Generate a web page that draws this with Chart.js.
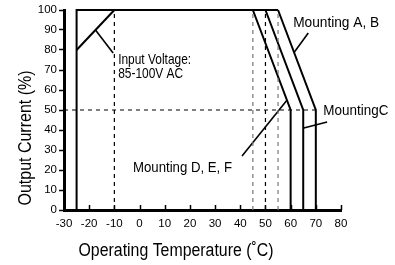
<!DOCTYPE html>
<html>
<head>
<meta charset="utf-8">
<script src="https://cdn.jsdelivr.net/npm/chart.js@4.4.1/dist/chart.umd.min.js"></script>
<style>
  body { margin: 0; background: #fff; }
  #wrap { width: 395px; height: 265px; }
</style>
</head>
<body>
<div id="wrap"><canvas id="derating" width="395" height="265"></canvas></div>
<script>
// axis ticks
const xTicks = [-30, -20, -10, 0, 10, 20, 30, 40, 50, 60, 70, 80];
const yTicks = [0, 10, 20, 30, 40, 50, 60, 70, 80, 90, 100];

// derating curves (temperature °C, output current %)
const outlineX = [-25, -25, 55];
const outlineY = [0, 100, 100];
const lowVoltX = [-25, -10];
const lowVoltY = [80, 100];
const mountDEFX = [45, 60, 60];
const mountDEFY = [100, 50, 0];
const mountCX = [50, 65, 65];
const mountCY = [100, 50, 0];
const mountABX = [55, 70, 70];
const mountABY = [100, 50, 0];

// dashed guide lines
const guide50X = [-30, 70];
const guide50Y = [50, 50];
const guideTemps = [-10, 45, 50, 55];
const guideColors = ['#000', '#777', '#000', '#777'];

// leader lines for the callouts
const leaderVoltX = [-17.5, -10.5];
const leaderVoltY = [90, 78.5];
const leaderABX = [67, 61.5];
const leaderABY = [88.5, 79];
const leaderCX = [74.5, 65.2];
const leaderCY = [44, 41];
const leaderDEFX = [40.7, 58.6];
const leaderDEFY = [27, 55];

// callout text, anchored at data coordinates (w = condensed width in px)
const callouts = [
    { text: 'Input Voltage:', x: -8.5, y: 73, w: 73 },
    { text: '85-100V AC', x: -8.5, y: 66.2, w: 65 },
    { text: 'Mounting A, B', x: 61, y: 91.7, w: 86 },
    { text: 'MountingC', x: 73, y: 47.5, w: 65 },
    { text: 'Mounting D, E, F', x: -2.6, y: 19.2, w: 99 }
];

const FONT = '"Liberation Sans", Arial, sans-serif';

function pts(xs, ys) {
    return xs.map((x, i) => ({ x: x, y: ys[i] }));
}

function solid(xs, ys, width) {
    return {
        data: pts(xs, ys),
        showLine: true,
        borderColor: '#000',
        borderWidth: width,
        pointRadius: 0,
        clip: false,
        borderJoinStyle: 'miter'
    };
}

// draw text squeezed horizontally to look like a condensed face
function squeezed(ctx, text, x, y, width, align) {
    const natural = ctx.measureText(text).width;
    const k = width / natural;
    ctx.save();
    ctx.translate(x, y);
    ctx.scale(k, 1);
    ctx.textAlign = align;
    ctx.fillText(text, 0, 0);
    ctx.restore();
}

const datasets = [];
guideTemps.forEach((t, i) => {
    datasets.push({
        data: pts([t, t], [0, 100]),
        showLine: true,
        borderColor: guideColors[i],
        borderWidth: 1.2,
        borderDash: [4, 4],
        pointRadius: 0,
        clip: false
    });
});
datasets.push({
    data: pts(guide50X, guide50Y),
    showLine: true,
    borderColor: '#000',
    borderWidth: 1.2,
    borderDash: [4, 4],
    pointRadius: 0,
    clip: false
});
datasets.push(solid(outlineX, outlineY, 2));
datasets.push(solid(lowVoltX, lowVoltY, 2));
datasets.push(solid(mountDEFX, mountDEFY, 2));
datasets.push(solid(mountCX, mountCY, 2));
datasets.push(solid(mountABX, mountABY, 2));
datasets.push(solid(leaderVoltX, leaderVoltY, 1.6));
datasets.push(solid(leaderABX, leaderABY, 1.6));
datasets.push(solid(leaderCX, leaderCY, 1.6));
datasets.push(solid(leaderDEFX, leaderDEFY, 1.6));

// inward tick marks on x, callout text and axis titles
const decorations = {
    id: 'decorations',
    afterDatasetsDraw(chart) {
        const ctx = chart.ctx;
        const xs = chart.scales.x;
        const ys = chart.scales.y;
        const area = chart.chartArea;
        ctx.save();
        ctx.strokeStyle = '#000';
        ctx.lineWidth = 1.5;
        xTicks.slice(1).forEach(t => {
            const px = Math.round(xs.getPixelForValue(t)) + 0.5;
            ctx.beginPath();
            ctx.moveTo(px, area.bottom);
            ctx.lineTo(px, area.bottom - 5);
            ctx.stroke();
        });

        ctx.fillStyle = '#000';
        ctx.font = '15px ' + FONT;
        ctx.textBaseline = 'alphabetic';
        callouts.forEach(c => {
            squeezed(ctx, c.text, xs.getPixelForValue(c.x), ys.getPixelForValue(c.y), c.w, 'left');
        });

        ctx.font = '18px ' + FONT;
        squeezed(ctx, 'Operating Temperature (˚C)', 176, 256, 195, 'center');
        ctx.translate(31, 138);
        ctx.rotate(-Math.PI / 2);
        squeezed(ctx, 'Output Current (%)', 0, 0, 135, 'center');
        ctx.restore();
    }
};

new Chart(document.getElementById('derating').getContext('2d'), {
    type: 'scatter',
    data: { datasets: datasets },
    options: {
        responsive: false,
        animation: false,
        layout: { padding: { top: 10, right: 54, left: 0, bottom: 0 } },
        plugins: {
            legend: { display: false },
            tooltip: { enabled: false }
        },
        scales: {
            x: {
                type: 'linear',
                min: -30,
                max: 80,
                afterFit(scale) { scale.height = 55; },
                afterBuildTicks(scale) { scale.ticks = xTicks.map(v => ({ value: v })); },
                grid: { display: false, drawTicks: false },
                border: { display: true, color: '#000', width: 3 },
                ticks: {
                    color: '#000',
                    padding: 7,
                    font: { family: FONT, size: 11.5 }
                }
            },
            y: {
                type: 'linear',
                min: 0,
                max: 100,
                afterFit(scale) { scale.width = 64; },
                afterBuildTicks(scale) { scale.ticks = yTicks.map(v => ({ value: v })); },
                grid: { drawOnChartArea: false, drawTicks: true, tickLength: 5, tickColor: '#000', tickWidth: 1.5 },
                border: { display: true, color: '#000', width: 3 },
                ticks: {
                    color: '#000',
                    padding: 2,
                    font: { family: FONT, size: 11.5 }
                }
            }
        }
    },
    plugins: [decorations]
});
</script>
</body>
</html>
